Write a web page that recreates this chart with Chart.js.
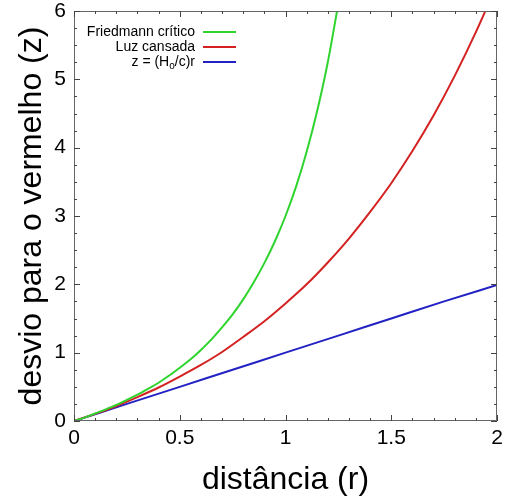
<!DOCTYPE html>
<html>
<head>
<meta charset="utf-8">
<script src="https://cdn.jsdelivr.net/npm/chart.js@4"></script>
<style>
  html, body { margin: 0; padding: 0; background: #fff; }
  #wrap { width: 507px; height: 499px; }
</style>
</head>
<body>
<div id="wrap"><canvas id="myChart" width="507" height="499"></canvas></div>
<script>
/* data */
const seriesLabels = ['Friedmann crítico', 'Luz cansada', 'z = (H/c)r'];
const seriesColors = ['#2fd42f', '#d42222', '#2222c4'];

const friedmannR = [0, 0.05, 0.1, 0.15, 0.2, 0.25, 0.3, 0.35, 0.4, 0.45, 0.5, 0.55, 0.6, 0.65, 0.7,
                    0.75, 0.8, 0.85, 0.9, 0.95, 1.0, 1.05, 1.1, 1.15, 1.2, 1.25];
const friedmannZ = [0, 0.05, 0.11, 0.17, 0.235, 0.31, 0.385, 0.47, 0.56, 0.665, 0.78, 0.9, 1.04, 1.195, 1.37,
                    1.56, 1.78, 2.03, 2.31, 2.63, 3.0, 3.43, 3.94, 4.54, 5.25, 6.11];

const luzR = [0, 0.1, 0.2, 0.3, 0.4, 0.5, 0.6, 0.7, 0.8, 0.9, 1.0,
              1.1, 1.2, 1.3, 1.4, 1.5, 1.6, 1.7, 1.8, 1.9, 2.0];
const luzZ = [0, 0.105, 0.22, 0.35, 0.49, 0.65, 0.82, 1.01, 1.23, 1.46, 1.72,
              2.0, 2.32, 2.67, 3.06, 3.48, 3.95, 4.47, 5.05, 5.69, 6.39];

const linearR = [0, 0.25, 0.5, 0.75, 1.0, 1.25, 1.5, 1.75, 2.0];
const linearZ = [0, 0.25, 0.5, 0.75, 1.0, 1.25, 1.5, 1.75, 1.99];

const xTicks = [0, 0.5, 1, 1.5, 2];
const xTickLabels = ['0', '0.5', '1', '1.5', '2'];
const yTicks = [0, 1, 2, 3, 4, 5, 6];
const xMinorStep = 0.1;
const yMinorStep = 0.25;

function toPoints(xs, ys) {
    return xs.map((x, i) => ({ x: x, y: ys[i] }));
}

/* inside ticks on all four sides + frame + legend */
const frameAndLegend = {
    id: 'frameAndLegend',
    afterDraw(chart) {
        const ctx = chart.ctx;
        const a = chart.chartArea;
        const xs = chart.scales.x;
        const ys = chart.scales.y;
        ctx.save();
        ctx.strokeStyle = '#666';
        ctx.lineWidth = 1;
        ctx.strokeRect(a.left + 0.5, a.top + 0.5, a.right - a.left - 1, a.bottom - a.top - 1);

        ctx.strokeStyle = '#444';
        ctx.beginPath();
        for (let v = 0; v <= 2.0001; v += xMinorStep) {
            const major = xTicks.some(t => Math.abs(t - v) < 1e-6);
            const len = major ? 6 : 3;
            const px = Math.round(xs.getPixelForValue(v)) + 0.5;
            ctx.moveTo(px, a.bottom); ctx.lineTo(px, a.bottom - len);
            ctx.moveTo(px, a.top); ctx.lineTo(px, a.top + len);
        }
        for (let v = 0; v <= 6.0001; v += yMinorStep) {
            const major = yTicks.some(t => Math.abs(t - v) < 1e-6);
            const len = major ? 6 : 3;
            const py = Math.round(ys.getPixelForValue(v)) + 0.5;
            ctx.moveTo(a.left, py); ctx.lineTo(a.left + len, py);
            ctx.moveTo(a.right, py); ctx.lineTo(a.right - len, py);
        }
        ctx.stroke();

        // legend
        const textRight = 195;
        const lineX0 = 203, lineX1 = 236;
        const rows = [32, 47, 62];
        ctx.font = '14px "Liberation Sans", Arial, sans-serif';
        ctx.textBaseline = 'middle';
        ctx.fillStyle = '#000';
        chart.data.datasets.forEach((ds, i) => {
            const y = rows[i];
            if (i < 2) {
                ctx.textAlign = 'right';
                ctx.fillText(ds.label, textRight, y);
            } else {
                // z = (H_o/c)r with subscript
                const p1 = 'z = (H', p3 = '/c)r';
                const subFont = '10px "Liberation Sans", Arial, sans-serif';
                const mainFont = ctx.font;
                const w1 = ctx.measureText(p1).width;
                const w3 = ctx.measureText(p3).width;
                ctx.font = subFont;
                const w2 = ctx.measureText('o').width;
                ctx.font = mainFont;
                let x = textRight - (w1 + w2 + w3);
                ctx.textAlign = 'left';
                ctx.fillText(p1, x, y);
                x += w1;
                ctx.font = subFont;
                ctx.fillText('o', x, y + 4);
                x += w2;
                ctx.font = mainFont;
                ctx.fillText(p3, x, y);
            }
            ctx.strokeStyle = ds.borderColor;
            ctx.lineWidth = 2;
            ctx.beginPath();
            ctx.moveTo(lineX0, y); ctx.lineTo(lineX1, y);
            ctx.stroke();
        });
        ctx.restore();
    }
};

const ctx = document.getElementById('myChart').getContext('2d');
const myChart = new Chart(ctx, {
    type: 'scatter',
    data: {
        datasets: [
            { label: seriesLabels[0], data: toPoints(friedmannR, friedmannZ), borderColor: seriesColors[0] },
            { label: seriesLabels[1], data: toPoints(luzR, luzZ), borderColor: seriesColors[1] },
            { label: seriesLabels[2], data: toPoints(linearR, linearZ), borderColor: seriesColors[2] }
        ].map(ds => Object.assign(ds, {
            showLine: true,
            pointRadius: 0,
            borderWidth: 2,
            tension: 0.4,
            cubicInterpolationMode: 'monotone',
            fill: false
        }))
    },
    options: {
        responsive: false,
        animation: false,
        layout: { padding: { top: 11, right: 10, left: 0, bottom: 0 } },
        plugins: {
            legend: { display: false },
            tooltip: { enabled: false }
        },
        scales: {
            x: {
                type: 'linear',
                min: 0,
                max: 2,
                afterBuildTicks(scale) { scale.ticks = xTicks.map(v => ({ value: v })); },
                afterFit(scale) {
                    scale.height = 78;
                    scale.paddingLeft = 0;
                    scale.paddingRight = 0;
                },
                ticks: {
                    padding: 5,
                    color: '#000',
                    font: { family: '"Liberation Sans", Arial, sans-serif', size: 21 },
                    maxRotation: 0,
                    callback: (value, index) => xTickLabels[index]
                },
                grid: { display: false, drawTicks: false, tickLength: 0 },
                border: { display: false },
                title: {
                    display: true,
                    text: 'distância (r)',
                    color: '#000',
                    font: { family: '"Liberation Sans", Arial, sans-serif', size: 32 },
                    padding: { top: 0, bottom: 0 }
                }
            },
            y: {
                type: 'linear',
                min: 0,
                max: 6,
                afterBuildTicks(scale) { scale.ticks = yTicks.map(v => ({ value: v })); },
                afterFit(scale) {
                    scale.width = 74;
                    scale.paddingTop = 0;
                    scale.paddingBottom = 0;
                },
                ticks: {
                    padding: 8,
                    color: '#000',
                    font: { family: '"Liberation Sans", Arial, sans-serif', size: 21 }
                },
                grid: { display: false, drawTicks: false, tickLength: 0 },
                border: { display: false },
                title: {
                    display: true,
                    text: 'desvio para o vermelho (z)',
                    color: '#000',
                    font: { family: '"Liberation Sans", Arial, sans-serif', size: 32 },
                    padding: { top: 13, bottom: 0 }
                }
            }
        }
    },
    plugins: [frameAndLegend]
});
</script>
</body>
</html>
